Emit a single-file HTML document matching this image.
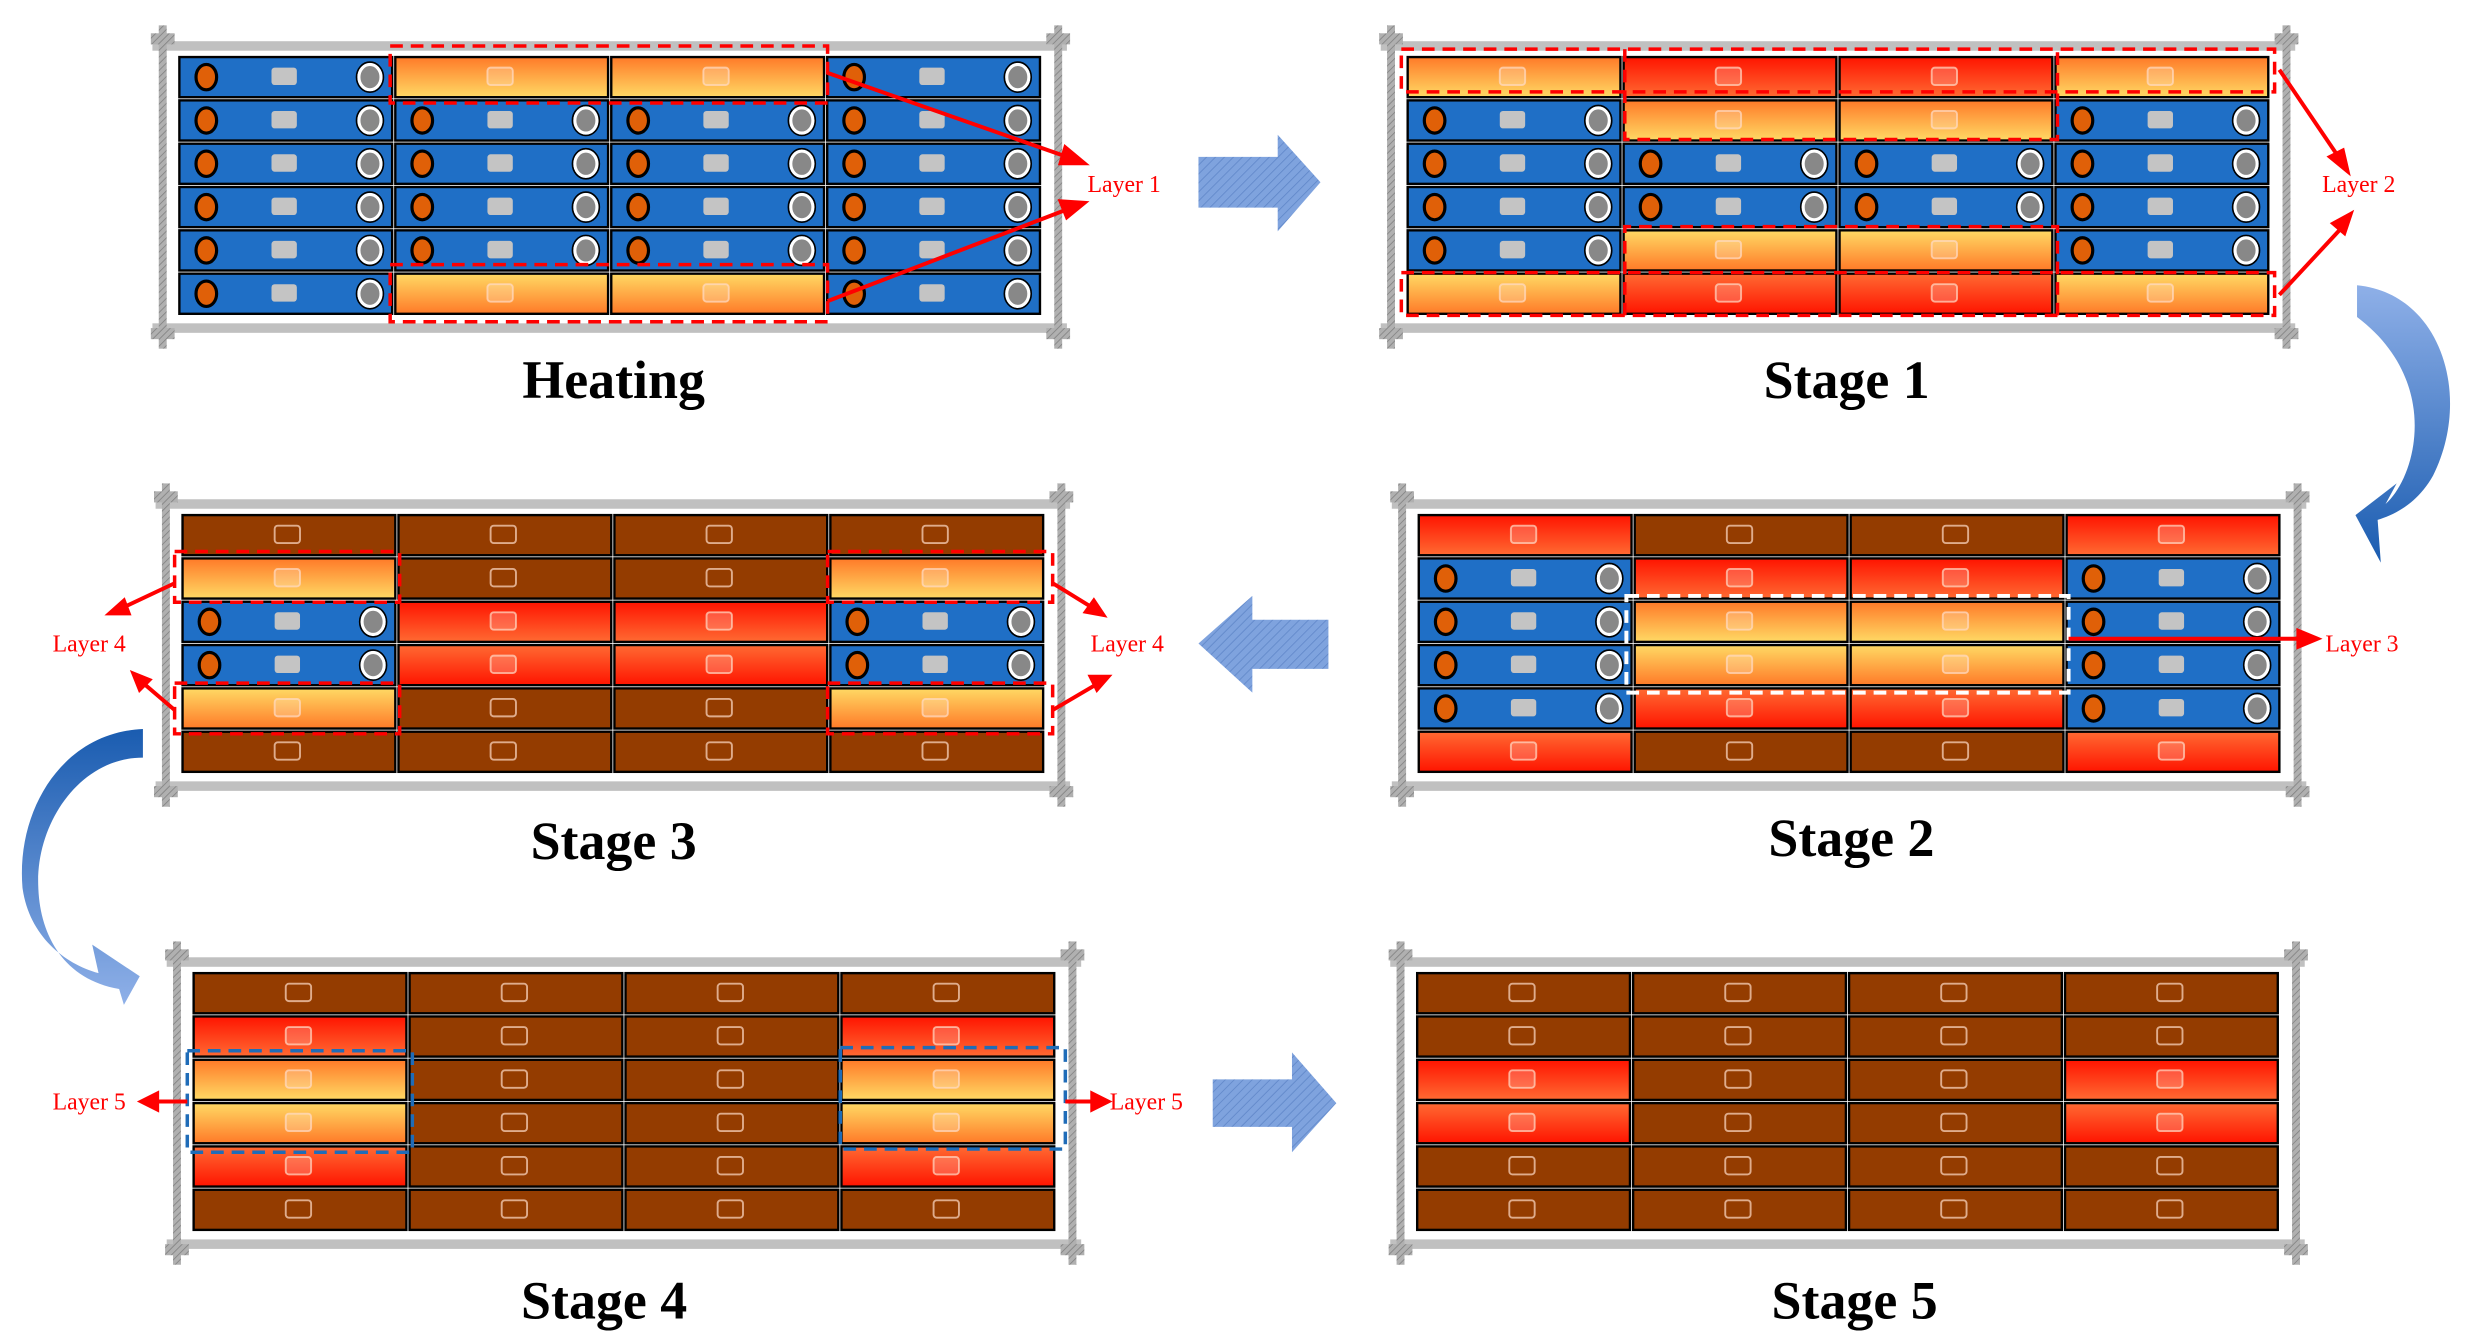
<!DOCTYPE html>
<html><head><meta charset="utf-8">
<style>
html,body{margin:0;padding:0;background:#fff;}
svg{display:block;}
.t{font-family:"Liberation Serif",serif;font-weight:bold;font-size:34px;fill:#000;text-anchor:middle;}
.l{font-family:"Liberation Serif",serif;font-size:15px;fill:#f00;}
</style></head>
<body>
<svg id="s" xmlns="http://www.w3.org/2000/svg" width="2473" height="1344" viewBox="0 0 1560 848">
<defs>
<linearGradient id="Yo" x1="0" y1="0" x2="0" y2="1"><stop offset="0" stop-color="#ff7a28"/><stop offset="1" stop-color="#ffd964"/></linearGradient>
<linearGradient id="Yu" x1="0" y1="0" x2="0" y2="1"><stop offset="0" stop-color="#ffd964"/><stop offset="1" stop-color="#ff7a28"/></linearGradient>
<linearGradient id="Rt" x1="0" y1="0" x2="0" y2="1"><stop offset="0" stop-color="#ff1400"/><stop offset="1" stop-color="#ff6a32"/></linearGradient>
<linearGradient id="Rb" x1="0" y1="0" x2="0" y2="1"><stop offset="0" stop-color="#ff6a32"/><stop offset="1" stop-color="#ff1400"/></linearGradient>
<linearGradient id="cv1" x1="0" y1="0" x2="0" y2="1"><stop offset="0" stop-color="#8fb0e8"/><stop offset="1" stop-color="#1a5cb0"/></linearGradient>
<linearGradient id="cv2" x1="0" y1="0" x2="0" y2="1"><stop offset="0" stop-color="#1a5cb0"/><stop offset="1" stop-color="#8fb0e8"/></linearGradient>
<pattern id="hatch" width="4" height="4" patternUnits="userSpaceOnUse" patternTransform="rotate(45)"><rect width="4" height="4" fill="#7fa3de"/><line x1="0" y1="0" x2="0" y2="4" stroke="#5f86c8" stroke-width="1"/></pattern>
<pattern id="ph" width="3" height="3" patternUnits="userSpaceOnUse" patternTransform="rotate(45)"><rect width="3" height="3" fill="#b0b0b0"/><line x1="0" y1="0" x2="0" y2="3" stroke="#808080" stroke-width="1"/></pattern>
</defs>
<g id="grids"></g>

<text class="t" x="387" y="251">Heating</text>
<text class="t" x="1165" y="251">Stage 1</text>
<text class="t" x="387" y="542">Stage 3</text>
<text class="t" x="1168" y="540">Stage 2</text>
<text class="t" x="381" y="832">Stage 4</text>
<text class="t" x="1170" y="832">Stage 5</text>

<polygon points="756,99 806,99 806,85 833,115 806,146 806,131 756,131" fill="url(#hatch)"/>
<polygon points="838,391 790,391 790,376 756,406 790,437 790,422 838,422" fill="url(#hatch)"/>
<polygon points="765,681 815,681 815,664 843,696 815,727 815,711 765,711" fill="url(#hatch)"/>
<path d="M1487,180 C1540,185 1560,250 1535,300 C1525,318 1510,325 1500,328 L1502,355 L1486,325 L1512,305 L1505,318 C1525,300 1540,240 1487,200 Z" fill="url(#cv1)"/>
<path d="M90,460 C40,462 10,510 14,560 C18,590 40,608 62,614 L58,596 L88,616 L78,634 L75,624 C40,618 25,590 24,560 C22,520 50,478 90,478 Z" fill="url(#cv2)"/>

<g fill="none" stroke="#f00" stroke-width="2.2" stroke-dasharray="8,5">
<rect x="246" y="29" width="276" height="36"/>
<rect x="246" y="167" width="276" height="36"/>
<rect x="884" y="31" width="551" height="27"/>
<rect x="884" y="172" width="551" height="27"/>
<path d="M1025,31 V88 H1298 V31"/>
<path d="M1025,199 V143 H1298 V199"/>
<rect x="110" y="348" width="142" height="32"/>
<rect x="110" y="431" width="142" height="32"/>
<rect x="522" y="348" width="142" height="32"/>
<rect x="522" y="431" width="142" height="32"/>
</g>
<g fill="none" stroke="#1f6cb8" stroke-width="2.2" stroke-dasharray="8,5">
<rect x="118" y="663" width="142" height="64"/>
<rect x="530" y="661" width="142" height="64"/>
</g>
<rect x="1026" y="376" width="279" height="61" fill="none" stroke="#fff" stroke-width="2.5" stroke-dasharray="8,5"/>

<g stroke="#f00" stroke-width="2.5" fill="#f00">
<line x1="522" y1="46" x2="676" y2="100"/><polygon points="684,103 672,93 669,103"/>
<line x1="522" y1="190" x2="676" y2="131"/><polygon points="684,128 669,127 673,137"/>
<line x1="1438" y1="44" x2="1476" y2="100"/><polygon points="1481,108 1470,99 1478,95"/>
<line x1="1438" y1="186" x2="1478" y2="143"/><polygon points="1483,135 1472,141 1479,147"/>
<line x1="1305" y1="403" x2="1452" y2="403"/><polygon points="1462,403 1450,398 1450,408"/>
<line x1="110" y1="368" x2="76" y2="384"/><polygon points="69,387 78,379 81,387"/>
<line x1="110" y1="448" x2="89" y2="430"/><polygon points="84,425 94,429 88,435"/>
<line x1="664" y1="368" x2="690" y2="384"/><polygon points="696,388 685,386 690,379"/>
<line x1="664" y1="448" x2="693" y2="431"/><polygon points="699,427 688,427 692,435"/>
<line x1="118" y1="695" x2="98" y2="695"/><polygon points="89,695 99,690 99,700"/>
<line x1="672" y1="695" x2="690" y2="695"/><polygon points="699,695 689,690 689,700"/>
</g>
<text class="l" x="686" y="121">Layer 1</text>
<text class="l" x="1465" y="121">Layer 2</text>
<text class="l" x="1467" y="411">Layer 3</text>
<text class="l" x="33" y="411">Layer 4</text>
<text class="l" x="688" y="411">Layer 4</text>
<text class="l" x="33" y="700">Layer 5</text>
<text class="l" x="700" y="700">Layer 5</text>
</svg>
<script>
(function(){
var NS="http://www.w3.org/2000/svg",g=document.getElementById("grids");
function el(n,a){var e=document.createElementNS(NS,n);for(var k in a)e.setAttribute(k,a[k]);g.appendChild(e);return e;}
var frames=[
[112,35,["B Yo Yo B","B B B B","B B B B","B B B B","B B B B","B Yu Yu B"]],
[887,35,["Yo Rt Rt Yo","B Yo Yo B","B B B B","B B B B","B Yu Yu B","Yu Rb Rb Yu"]],
[114,324,["D D D D","Yo D D Yo","B Rt Rt B","B Rb Rb B","Yu D D Yu","D D D D"]],
[894,324,["Rt D D Rt","B Rt Rt B","B Yo Yo B","B Yu Yu B","B Rb Rb B","Rb D D Rb"]],
[121,613,["D D D D","Rt D D Rt","Yo D D Yo","Yu D D Yu","Rb D D Rb","D D D D"]],
[893,613,["D D D D","D D D D","Rt D D Rt","Rb D D Rb","D D D D","D D D D"]]
];
frames.forEach(function(f){
 var cx=f[0],cy=f[1],W=545,H=164,cw=W/4,ch=H/6;
 el("rect",{x:cx-16,y:cy-9,width:W+32,height:6,fill:"#c0c0c0"});
 el("rect",{x:cx-16,y:cy+H+5,width:W+32,height:6,fill:"#c0c0c0"});
 [cx-12,cx+W+8].forEach(function(px){
  el("rect",{x:px,y:cy-19,width:5,height:H+40,fill:"url(#ph)"});
  el("rect",{x:px-5,y:cy-14,width:15,height:7,fill:"url(#ph)"});
  el("rect",{x:px-5,y:cy+H+8,width:15,height:7,fill:"url(#ph)"});
 });
 f[2].forEach(function(row,r){
  row.split(" ").forEach(function(t,c){
   var x=cx+c*cw+1,y=cy+r*ch+1,w=cw-2,h=ch-2;
   if(t=="B"){
    el("rect",{x:x,y:y,width:w,height:h,fill:"#1f6fc6",stroke:"#000","stroke-width":1.5});
    el("ellipse",{cx:x+17,cy:y+h/2,rx:6.5,ry:8,fill:"#e06008",stroke:"#000","stroke-width":2});
    el("rect",{x:x+w/2-9,y:y+h/2-6,width:16,height:11,rx:2,fill:"#c4c4c4"});
    el("ellipse",{cx:x+w-14,cy:y+h/2,rx:7,ry:8,fill:"#888",stroke:"#fff","stroke-width":2});
    el("ellipse",{cx:x+w-14,cy:y+h/2,rx:8.5,ry:9.5,fill:"none",stroke:"#000","stroke-width":1});
   } else {
    var fill=t=="D"?"#943c00":"url(#"+t+")";
    el("rect",{x:x,y:y,width:w,height:h,fill:fill,stroke:"#000","stroke-width":1.5});
    el("rect",{x:x+w/2-9,y:y+h/2-6,width:16,height:11,rx:2,fill:t=="D"?"none":"rgba(255,255,255,0.2)",stroke:"rgba(255,220,200,0.7)","stroke-width":1.2});
   }
  });
 });
});
})();
</script>
</body></html>
